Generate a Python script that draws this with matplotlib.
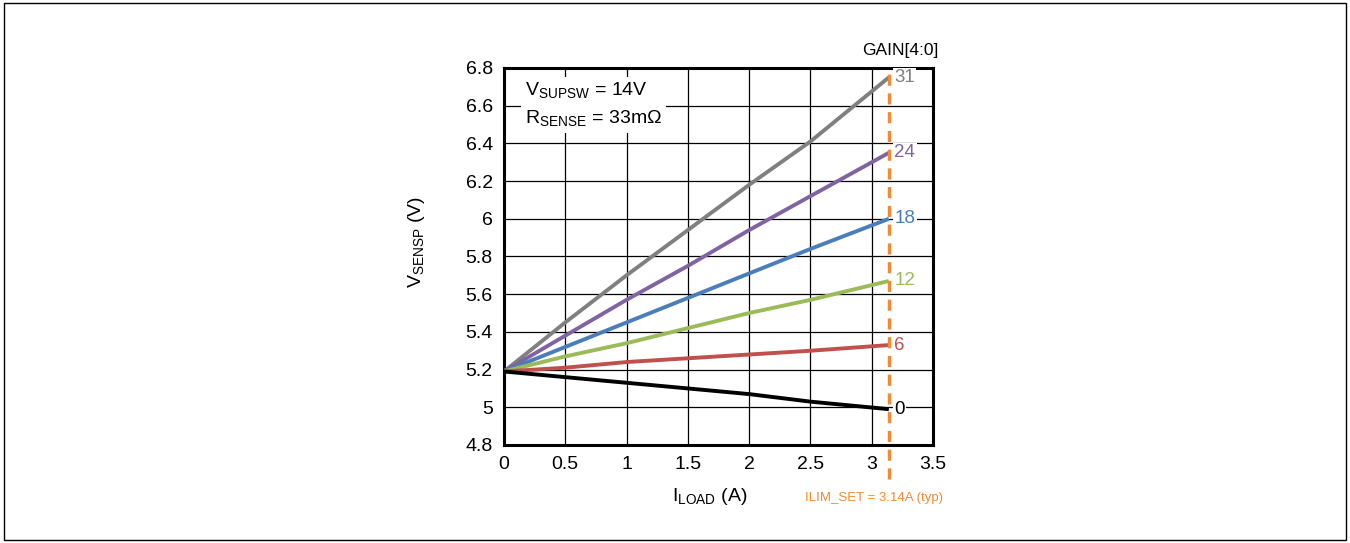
import numpy as np
import matplotlib
matplotlib.use('Agg')
import matplotlib.pyplot as plt
from matplotlib.patches import Rectangle

plt.rcParams['font.family'] = ['Liberation Sans', 'DejaVu Sans']

#load current (A) where the curves were sampled
i_load = [0, 0.5, 1.0, 1.5, 2.0, 2.5, 3.14]

#V_SENSP (V) for each GAIN[4:0] setting
gains = ['31', '24', '18', '12', '6', '0']
v_sensp = {
    '31': [5.19, 5.45, 5.70, 5.94, 6.18, 6.41, 6.75],
    '24': [5.19, 5.38, 5.57, 5.75, 5.94, 6.12, 6.35],
    '18': [5.19, 5.32, 5.45, 5.58, 5.71, 5.84, 6.00],
    '12': [5.19, 5.27, 5.34, 5.42, 5.50, 5.57, 5.67],
    '6':  [5.19, 5.21, 5.24, 5.26, 5.28, 5.30, 5.33],
    '0':  [5.19, 5.16, 5.13, 5.10, 5.07, 5.03, 4.99],
}
colors = {'31': '#808080', '24': '#8064A2', '18': '#4A7EBB',
          '12': '#9BBB59', '6': '#C0504D', '0': '#000000'}
ilim = 3.14

fig = plt.figure(figsize=(13.5, 5.43), dpi=100)
ax = fig.add_axes([0.3733, 0.1805, 0.3178, 0.6943])

for g in gains:
    ax.plot(i_load, v_sensp[g], color=colors[g], lw=2.8, solid_capstyle='butt', zorder=3)
    ax.annotate(g, (ilim, v_sensp[g][-1]), textcoords='offset points', xytext=(4, 0),
                va='center', ha='left', fontsize=13.5, color=colors[g],
                annotation_clip=False, zorder=5,
                bbox=dict(facecolor='white', edgecolor='none', pad=1))

#current limit line
ax.axvline(ilim, ymin=-0.09, ymax=1.0, color='#F08A33', lw=2.5, ls=(0, (3.2, 2.2)),
           clip_on=False, zorder=4)

ax.set_xlim(0, 3.5)
ax.set_ylim(4.8, 6.8)
ax.set_xticks(np.arange(0, 3.51, 0.5))
ax.set_xticklabels(['0', '0.5', '1', '1.5', '2', '2.5', '3', '3.5'])
ax.set_yticks(np.arange(4.8, 6.81, 0.2))
ax.set_yticklabels(['4.8', '5', '5.2', '5.4', '5.6', '5.8', '6', '6.2', '6.4', '6.6', '6.8'])
ax.tick_params(length=0, labelsize=14, pad=8)
ax.grid(True, color='black', lw=0.9)
for s in ax.spines.values():
    s.set_linewidth(2.2)

ax.set_xlabel('I$_{\\mathregular{LOAD}}$ (A)', fontsize=14, labelpad=14)
ax.set_ylabel('V$_{\\mathregular{SENSP}}$ (V)', fontsize=14)
ax.xaxis.set_label_coords(0.48, -0.11)
ax.yaxis.set_label_coords(-0.18, 0.54)

ax.text(0.05, 0.965, 'V$_{\\mathregular{SUPSW}}$ = 14V\nR$_{\\mathregular{SENSE}}$ = 33m\u03a9',
        transform=ax.transAxes, fontsize=14, va='top', ha='left', linespacing=1.5,
        bbox=dict(facecolor='white', edgecolor='none', pad=3), zorder=5)

ax.text(ilim + 0.09, 6.895, 'GAIN[4:0]', fontsize=12.5, ha='center', va='center',
        clip_on=False)
ax.text(ilim - 0.12, 4.52, 'ILIM_SET = 3.14A (typ)', fontsize=9.5, color='#F08A33',
        ha='center', va='center', clip_on=False)

#outer frame
fig.patches.append(Rectangle((0.003, 0.006), 0.994, 0.988, transform=fig.transFigure,
                             fill=False, edgecolor='black', lw=1))

plt.savefig('out.png', dpi=100)
